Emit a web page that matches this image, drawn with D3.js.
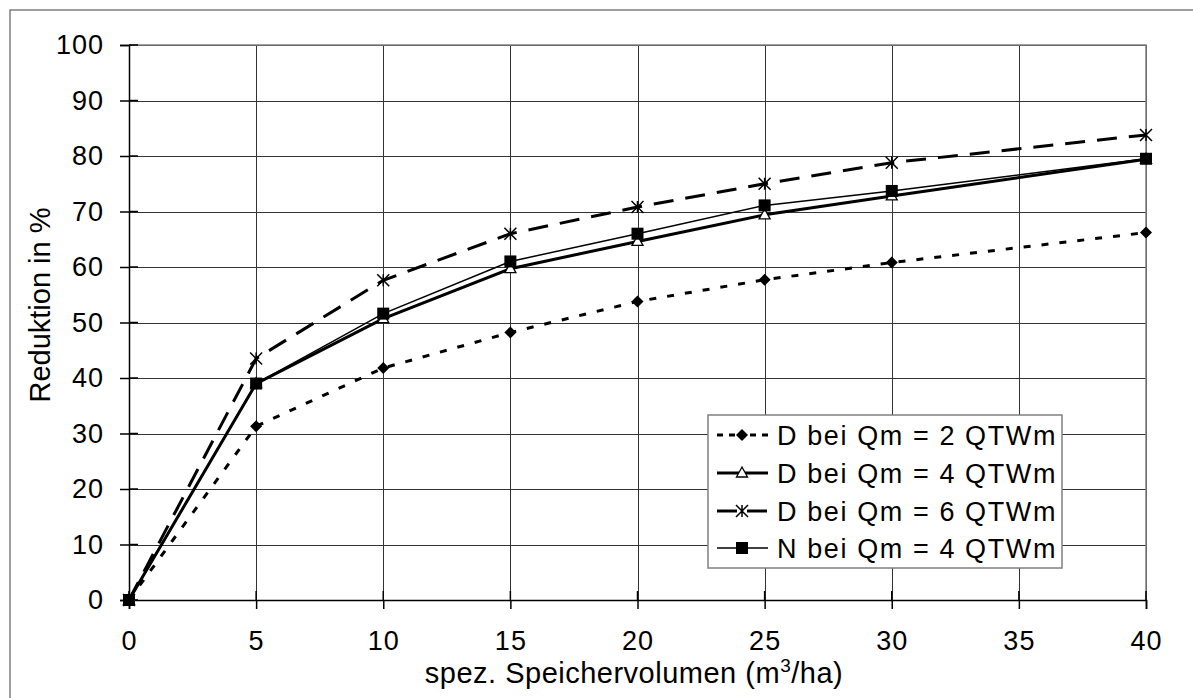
<!DOCTYPE html>
<html><head><meta charset="utf-8">
<script src="https://cdn.jsdelivr.net/npm/d3@7"></script>
<style>
body{margin:0;background:#fff;}
svg text{font-family:"Liberation Sans",Arial,sans-serif;fill:#000;}
</style></head>
<body><svg id="c" width="1193" height="698"></svg>
<script>
const xValues = [0, 5, 10, 15, 20, 25, 30, 40];
const seriesD2 = [0, 31.3, 41.8, 48.2, 53.8, 57.7, 60.8, 66.2];
const seriesD4 = [0, 39.0, 50.7, 59.7, 64.6, 69.4, 72.8, 79.4];
const seriesD6 = [0, 43.5, 57.6, 66.0, 70.8, 75.0, 78.8, 83.8];
const seriesN4 = [0, 39.0, 51.6, 61.0, 66.0, 71.1, 73.7, 79.5];
const seriesNames = ["D bei Qm = 2 QTWm", "D bei Qm = 4 QTWm", "D bei Qm = 6 QTWm", "N bei Qm = 4 QTWm"];
const xTicks = [0, 5, 10, 15, 20, 25, 30, 35, 40];
const yTicks = [0, 10, 20, 30, 40, 50, 60, 70, 80, 90, 100];
const xTitle = "spez. Speichervolumen (m";
const xTitleSup = "3";
const xTitleEnd = "/ha)";
const yTitle = "Reduktion in %";

const svg = d3.select("#c");
const L = 129, R = 1146, T = 45, B = 600;
const x = d3.scaleLinear().domain([0, 40]).range([L, R]);
const y = d3.scaleLinear().domain([0, 100]).range([B, T]);

// outer frame
svg.append("rect").attr("x", 10).attr("y", 10).attr("width", 1200).attr("height", 700)
  .attr("fill", "#fff").attr("stroke", "#7f7f7f").attr("stroke-width", 1.5);

// gridlines
svg.append("g").attr("transform", `translate(0,${B})`)
  .call(d3.axisBottom(x).tickValues(xTicks).tickSize(-(B - T)).tickFormat(""))
  .call(g => g.select(".domain").remove())
  .call(g => g.selectAll("line").attr("stroke", "#333").attr("shape-rendering", "crispEdges"));
svg.append("g").attr("transform", `translate(${L},0)`)
  .call(d3.axisLeft(y).tickValues(yTicks).tickSize(-(R - L)).tickFormat(""))
  .call(g => g.select(".domain").remove())
  .call(g => g.selectAll("line").attr("stroke", "#333").attr("shape-rendering", "crispEdges"));
svg.append("path").attr("d", `M${L},${T}H${R}V${B}`).attr("fill", "none").attr("stroke", "#808080").attr("stroke-width", 1.5);

// axes
const ya = svg.append("g").attr("transform", `translate(${L},0)`)
  .call(d3.axisLeft(y).tickValues(yTicks).tickSize(9).tickPadding(16));
const xa = svg.append("g").attr("transform", `translate(0,${B})`)
  .call(d3.axisBottom(x).tickValues(xTicks).tickSize(9).tickPadding(22));
[ya, xa].forEach(a => {
  a.selectAll(".domain").attr("stroke", "#000").attr("stroke-width", 1.5);
  a.selectAll(".tick line").attr("stroke", "#000").attr("stroke-width", 1.5);
  a.selectAll("text").attr("font-size", 27).attr("font-family", "Liberation Sans, Arial, sans-serif").attr("letter-spacing", 1);
});
svg.append("g").selectAll("line").data(yTicks).join("line")
  .attr("x1", L).attr("x2", L + 9).attr("y1", d => y(d)).attr("y2", d => y(d)).attr("stroke", "#000").attr("stroke-width", 1.5);
svg.append("g").selectAll("line").data(xTicks).join("line")
  .attr("y1", B).attr("y2", B - 9).attr("x1", d => x(d)).attr("x2", d => x(d)).attr("stroke", "#000").attr("stroke-width", 1.5);

// titles
const xt = svg.append("text").attr("x", 634).attr("y", 683).attr("text-anchor", "middle")
  .attr("font-size", 29).attr("letter-spacing", 0.5);
xt.append("tspan").text(xTitle);
xt.append("tspan").attr("dy", -11).attr("font-size", 19).text(xTitleSup);
xt.append("tspan").attr("dy", 11).text(xTitleEnd);
svg.append("text").attr("transform", `translate(50,305) rotate(-90)`).attr("text-anchor", "middle")
  .attr("font-size", 29).text(yTitle);

// series
const styles = [
  {data: seriesD2, width: 3, dash: "7,11", marker: "diamond"},
  {data: seriesD4, width: 3, dash: null, marker: "triangle"},
  {data: seriesD6, width: 3, dash: "20,12", marker: "asterisk"},
  {data: seriesN4, width: 1.5, dash: null, marker: "square"}
];
const line = d3.line().x(d => x(d[0])).y(d => y(d[1]));

function drawMarker(g, type, cx, cy) {
  if (type === "diamond") {
    const s = 6;
    g.append("path").attr("d", `M${cx},${cy - s}L${cx + s},${cy}L${cx},${cy + s}L${cx - s},${cy}Z`).attr("fill", "#000");
  } else if (type === "triangle") {
    g.append("path").attr("d", `M${cx},${cy - 6}L${cx + 5.5},${cy + 4}L${cx - 5.5},${cy + 4}Z`)
      .attr("fill", "#fff").attr("stroke", "#000").attr("stroke-width", 1.3);
  } else if (type === "asterisk") {
    const s = 6;
    g.append("path").attr("d", `M${cx - s},${cy - s}L${cx + s},${cy + s}M${cx - s},${cy + s}L${cx + s},${cy - s}M${cx},${cy - s}V${cy + s}`)
      .attr("stroke", "#000").attr("stroke-width", 1.5).attr("fill", "none");
  } else if (type === "square") {
    g.append("rect").attr("x", cx - 6).attr("y", cy - 6).attr("width", 12).attr("height", 12).attr("fill", "#000");
  }
}

styles.forEach(s => {
  const pts = xValues.map((v, i) => [v, s.data[i]]);
  svg.append("path").datum(pts).attr("d", line).attr("fill", "none").attr("stroke", "#000")
    .attr("stroke-width", s.width).attr("stroke-dasharray", s.dash);
});
styles.forEach(s => {
  const g = svg.append("g");
  xValues.forEach((v, i) => drawMarker(g, s.marker, x(v), y(s.data[i])));
});

// legend
const lg = svg.append("g");
lg.append("rect").attr("x", 708).attr("y", 415).attr("width", 354).attr("height", 153)
  .attr("fill", "#fff").attr("stroke", "#808080").attr("stroke-width", 1.5);
const rowY = [435, 473, 511, 548];
styles.forEach((s, i) => {
  const cy = rowY[i];
  if (s.dash) {
    const segs = s.marker === "diamond" ? [[717, 723], [729, 735], [750, 756], [762, 768]] : [[717, 737], [747, 767]];
    segs.forEach(sg => lg.append("line").attr("x1", sg[0]).attr("x2", sg[1]).attr("y1", cy).attr("y2", cy)
      .attr("stroke", "#000").attr("stroke-width", s.width));
  } else {
    lg.append("line").attr("x1", 717).attr("x2", 768).attr("y1", cy).attr("y2", cy)
      .attr("stroke", "#000").attr("stroke-width", s.width);
  }
  drawMarker(lg, s.marker, 742, cy);
  lg.append("text").attr("x", 777).attr("y", cy).attr("dy", "0.36em").attr("font-size", 27).attr("letter-spacing", 1.6)
    .text(seriesNames[i]);
});
</script></body></html>
